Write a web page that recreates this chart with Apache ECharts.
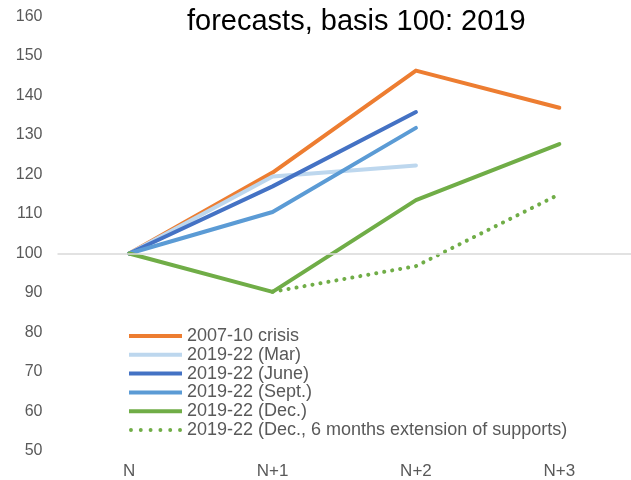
<!DOCTYPE html>
<html>
<head>
<meta charset="utf-8">
<script src="https://cdn.jsdelivr.net/npm/echarts@6/dist/echarts.min.js"></script>
<style>html,body{margin:0;padding:0;background:#fff;}#c{width:631px;height:480px;}</style>
</head>
<body>
<div id="c"></div>
<script>
var categories = ['N', 'N+1', 'N+2', 'N+3'];
var crisis2007 = [100, 120.5, 146.3, 136.9];
var mar2019 = [100, 119.5, 122.3, null];
var june2019 = [100, 117, 135.8, null];
var sept2019 = [100, 110.5, 131.8, null];
var dec2019 = [100, 90.3, 113.5, 127.7];
var decExt2019 = [null, 90.3, 96.8, 115];
var seriesNames = ['2007-10 crisis', '2019-22 (Mar)', '2019-22 (June)', '2019-22 (Sept.)', '2019-22 (Dec.)', '2019-22 (Dec., 6 months extension of supports)'];
var yTicks = {min: 50, max: 160, interval: 10};

var font = "'Liberation Sans', Arial, sans-serif";
var chart = echarts.init(document.getElementById('c'));
function mk(name, data, color, type) {
  return {
    name: name, type: 'line', data: data, symbol: 'none', showSymbol: false,
    connectNulls: false,
    lineStyle: {color: color, width: 4, type: type || 'solid', cap: 'round', join: 'round'},
    itemStyle: {color: color}
  };
}
var s = [
  mk(seriesNames[0], crisis2007, '#ED7D31'),
  mk(seriesNames[1], mar2019, '#BDD7EE'),
  mk(seriesNames[2], june2019, '#4472C4'),
  mk(seriesNames[3], sept2019, '#5B9BD5'),
  mk(seriesNames[4], dec2019, '#70AD47'),
  mk(seriesNames[5], decExt2019, '#70AD47', [0.1, 8])
];
s[0].markLine = {
  silent: true, symbol: 'none', label: {show: false},
  lineStyle: {color: '#d9d9d9', width: 1.5, type: 'solid'},
  data: [{yAxis: 100}]
};
// legend icons: thick line for solid series, row of dots for the dotted one
var dotPath = 'path://';
for (var i = 0; i < 6; i++) {
  var cx = 2 + i * 10;
  dotPath += 'M' + (cx - 2) + ',2a2,2 0 1,0 4,0a2,2 0 1,0 -4,0';
}
var legendData = seriesNames.map(function (n, i) {
  return {name: n, icon: i === 5 ? dotPath : 'rect'};
});
chart.setOption({
  animation: false,
  title: {
    text: 'forecasts, basis 100: 2019', left: 182, top: 2,
    textStyle: {fontFamily: font, fontSize: 29, fontWeight: 'normal', color: '#000'}
  },
  grid: {left: 57.5, right: -6.5, top: 16.5, bottom: 29, containLabel: false},
  legend: {
    orient: 'vertical', left: 129, top: 327, itemWidth: 53, itemHeight: 4, itemGap: 0.8,
    padding: 0,
    textStyle: {fontFamily: font, fontSize: 18, color: '#595959', lineHeight: 18},
    data: legendData
  },
  xAxis: {
    type: 'category', data: categories, boundaryGap: true,
    axisLine: {show: false}, axisTick: {show: false}, splitLine: {show: false},
    axisLabel: {fontFamily: font, fontSize: 17, color: '#595959', margin: 12}
  },
  yAxis: {
    type: 'value', min: yTicks.min, max: yTicks.max, interval: yTicks.interval,
    axisLine: {show: false}, axisTick: {show: false}, splitLine: {show: false},
    axisLabel: {fontFamily: font, fontSize: 16, color: '#595959', margin: 15}
  },
  series: s
});
</script>
</body>
</html>
